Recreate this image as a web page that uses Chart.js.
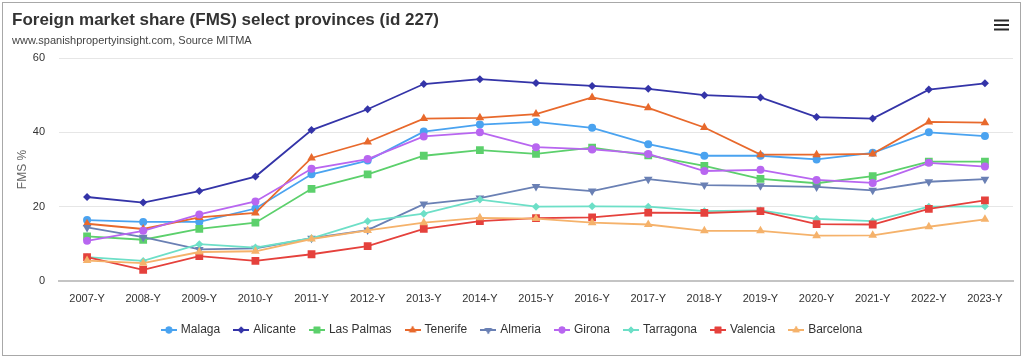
<!DOCTYPE html>
<html>
<head>
<meta charset="utf-8">
<script src="https://cdn.jsdelivr.net/npm/chart.js@4.4.1/dist/chart.umd.min.js"></script>
<style>
  html, body { margin: 0; padding: 0; background: #fff; }
  #wrap { position: relative; width: 1024px; height: 359px; }
</style>
</head>
<body>
<div id="wrap"><canvas id="c" width="1024" height="359"></canvas></div>
<script>
const categories = ['2007-Y','2008-Y','2009-Y','2010-Y','2011-Y','2012-Y','2013-Y','2014-Y','2015-Y','2016-Y','2017-Y','2018-Y','2019-Y','2020-Y','2021-Y','2022-Y','2023-Y'];
const yTicks = [0, 20, 40, 60];

const malaga    = [16.4,15.9,15.9,19.5,28.7,32.4,40.2,42.1,42.8,41.2,36.8,33.7,33.7,32.7,34.5,40.0,39.0];
const alicante  = [22.6,21.1,24.2,28.1,40.6,46.2,53.0,54.3,53.3,52.5,51.7,50.0,49.4,44.1,43.7,51.5,53.2];
const lasPalmas = [12.0,11.1,14.0,15.7,24.8,28.7,33.7,35.2,34.2,35.9,33.8,31.0,27.5,26.3,28.2,32.1,32.1];
const tenerife  = [15.4,14.0,17.1,18.3,33.1,37.4,43.7,43.9,44.9,49.4,46.6,41.3,34.0,34.0,34.2,42.8,42.6];
const almeria   = [14.4,11.8,8.5,8.8,11.5,13.7,20.7,22.3,25.4,24.2,27.4,25.8,25.6,25.3,24.4,26.7,27.4];
const girona    = [10.8,13.5,17.9,21.4,30.2,32.8,38.9,40.0,36.0,35.4,34.2,29.6,29.9,27.2,26.4,31.8,30.8];
const tarragona = [6.4,5.4,9.9,9.0,11.5,16.1,18.1,21.9,20.0,20.1,20.0,18.8,19.0,16.7,16.1,20.0,20.1];
const valencia  = [6.4,3.0,6.7,5.4,7.2,9.4,14.0,16.1,16.9,17.1,18.4,18.3,18.8,15.3,15.2,19.4,21.7];
const barcelona = [5.5,4.8,7.8,8.0,11.3,13.6,15.7,17.0,16.8,15.7,15.2,13.5,13.5,12.2,12.3,14.6,16.6];

const seriesNames = ['Malaga','Alicante','Las Palmas','Tenerife','Almeria','Girona','Tarragona','Valencia','Barcelona'];
const seriesData = [malaga, alicante, lasPalmas, tenerife, almeria, girona, tarragona, valencia, barcelona];
const seriesColors = ['#4aa3f0','#3434a8','#5cd06c','#e8692c','#6a80b4','#b866f0','#6ddfc7','#e5413c','#f5b26b'];
const seriesStyles = [
  {style:'circle', rot:0, r:4},
  {style:'rectRot', rot:0, r:4},
  {style:'rect', rot:0, r:5.5},
  {style:'triangle', rot:0, r:5},
  {style:'triangle', rot:180, r:5},
  {style:'circle', rot:0, r:4},
  {style:'rectRot', rot:0, r:4},
  {style:'rect', rot:0, r:5.5},
  {style:'triangle', rot:0, r:5}
];

function legendIcon(color, st) {
  const cv = document.createElement('canvas');
  cv.width = 16; cv.height = 10;
  const ctx = cv.getContext('2d');
  ctx.strokeStyle = color; ctx.lineWidth = 2;
  ctx.beginPath(); ctx.moveTo(0, 5); ctx.lineTo(16, 5); ctx.stroke();
  ctx.fillStyle = color;
  Chart.helpers.drawPoint(ctx, {pointStyle: st.style, rotation: st.rot, radius: st.r * 0.85, borderWidth: 0}, 8, 5);
  ctx.fill();
  return cv;
}

const datasets = seriesNames.map((name, i) => ({
  label: name,
  data: seriesData[i],
  borderColor: seriesColors[i],
  backgroundColor: seriesColors[i],
  pointBackgroundColor: seriesColors[i],
  pointBorderColor: seriesColors[i],
  pointBorderWidth: 0,
  borderWidth: 1.8,
  pointStyle: seriesStyles[i].style,
  pointRotation: seriesStyles[i].rot,
  pointRadius: seriesStyles[i].r,
  pointHoverRadius: seriesStyles[i].r,
  tension: 0,
  fill: false,
  order: seriesNames.length - i
}));

const framePlugin = {
  id: 'frame',
  afterDraw(chart) {
    const ctx = chart.ctx;
    ctx.save();
    ctx.strokeStyle = '#a8a8a8';
    ctx.lineWidth = 1;
    ctx.strokeRect(2.5, 2.5, 1018, 353);
    ctx.fillStyle = '#2a2a2a';
    ctx.fillRect(994, 19.5, 15, 2);
    ctx.fillRect(994, 24, 15, 2);
    ctx.fillRect(994, 28.5, 15, 2);
    ctx.restore();
  }
};

const FONT = "'Liberation Sans', Arial, Helvetica, sans-serif";

new Chart(document.getElementById('c'), {
  type: 'line',
  data: { labels: categories, datasets },
  plugins: [framePlugin],
  options: {
    responsive: false,
    animation: false,
    events: [],
    layout: { padding: { top: 6, left: 12, right: 11, bottom: 13 } },
    plugins: {
      tooltip: { enabled: false },
      title: {
        display: true,
        text: 'Foreign market share (FMS) select provinces (id 227)',
        align: 'start',
        color: '#333333',
        font: { family: FONT, size: 17, weight: 'bold' },
        padding: { top: 4, bottom: 4 }
      },
      subtitle: {
        display: true,
        text: 'www.spanishpropertyinsight.com, Source MITMA',
        align: 'start',
        color: '#444444',
        font: { family: FONT, size: 11 },
        padding: { top: 0, bottom: 10.4 }
      },
      legend: {
        position: 'bottom',
        labels: {
          usePointStyle: true,
          pointStyleWidth: 12,
          boxHeight: 12,
          padding: 15,
          color: '#333333',
          font: { family: FONT, size: 12 },
          generateLabels(chart) {
            return chart.data.datasets.map((ds, i) => ({
              text: ds.label,
              fillStyle: ds.borderColor,
              strokeStyle: ds.borderColor,
              fontColor: '#333333',
              lineWidth: 0,
              pointStyle: legendIcon(ds.borderColor, seriesStyles[i]),
              hidden: false,
              datasetIndex: i
            }));
          }
        }
      }
    },
    scales: {
      x: {
        offset: true,
        grid: { display: false, drawTicks: false },
        border: { display: true, color: '#c4c4c4', width: 2 },
        ticks: { color: '#333333', font: { family: FONT, size: 11 }, padding: 11, maxRotation: 0, autoSkip: false },
        afterFit(scale) { scale.height = 28; }
      },
      y: {
        min: 0,
        max: 60,
        afterBuildTicks(scale) { scale.ticks = yTicks.map(v => ({ value: v })); },
        grid: { color: '#e6e6e6', drawTicks: false, lineWidth: 1 },
        border: { display: false },
        ticks: { color: '#333333', font: { family: FONT, size: 11 }, padding: 14 },
        title: { display: true, text: 'FMS %', color: '#666666', font: { family: FONT, size: 12 }, padding: { top: 3, bottom: 0 } },
        afterFit(scale) { scale.width = 47; }
      }
    }
  }
});
</script>
</body>
</html>
